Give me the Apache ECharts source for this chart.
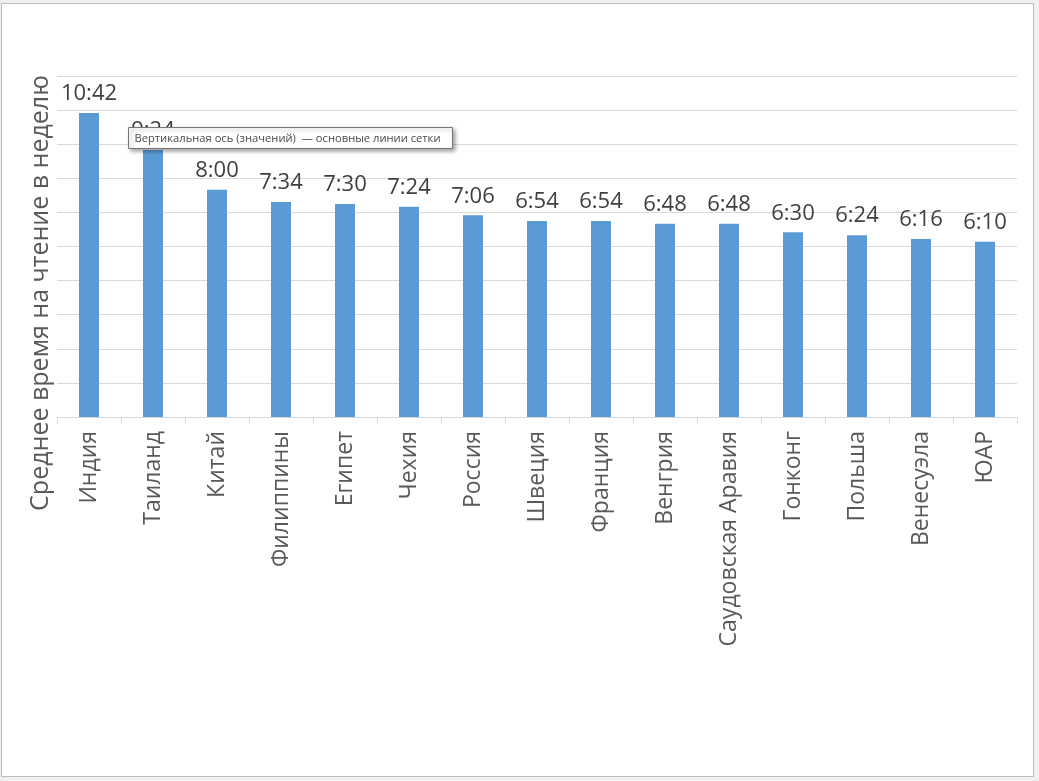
<!DOCTYPE html>
<html>
<head>
<meta charset="utf-8">
<script src="https://cdn.jsdelivr.net/npm/echarts@6/dist/echarts.min.js"></script>
<style>
html,body{margin:0;padding:0;background:#f0f0f0;}
#frame{position:absolute;left:1px;top:3px;width:1033px;height:774px;background:#fff;border:1px solid #bdbdbd;box-sizing:border-box;}
#chart{position:absolute;left:0;top:0;width:1039px;height:781px;}
</style>
</head>
<body>
<div id="frame"></div>
<div id="chart"></div>
<script>
var categories = ['Индия','Таиланд','Китай','Филиппины','Египет','Чехия','Россия','Швеция','Франция','Венгрия','Саудовская Аравия','Гонконг','Польша','Венесуэла','ЮАР'];
var timeLabels = ['10:42','9:24','8:00','7:34','7:30','7:24','7:06','6:54','6:54','6:48','6:48','6:30','6:24','6:16','6:10'];
var yTitle = 'Среднее время на чтение в неделю';
var hoverText = 'Вертикальная ось (значений)  — основные линии сетки';

function toMinutes(s){var p=s.split(':');return +p[0]*60 + +p[1];}
var values = timeLabels.map(toMinutes);

var font = '"Open Sans", "Noto Sans", sans-serif';
var chart = echarts.init(document.getElementById('chart'));
chart.setOption({
  animation:false,
  grid:{left:57,right:22,top:76,bottom:364},
  xAxis:{
    type:'category',
    data:categories,
    axisLine:{lineStyle:{color:'#d9d9d9'}},
    axisTick:{show:true,length:7,lineStyle:{color:'#d9d9d9'}},
    axisLabel:{rotate:90,fontSize:23,color:'#595959',fontFamily:font,margin:14,interval:0}
  },
  yAxis:{
    type:'value',min:0,max:720,interval:72,
    axisLabel:{show:false},
    axisLine:{show:false},axisTick:{show:false},
    splitLine:{lineStyle:{color:'#d9d9d9'}}
  },
  series:[{
    type:'bar',
    data:values,
    barWidth:20,
    itemStyle:{color:'#5b9bd5'},
    label:{show:true,position:'top',distance:8,fontSize:22,color:'#404040',fontFamily:font,
      formatter:function(p){return timeLabels[p.dataIndex];}}
  }],
  graphic:[
    {type:'text',x:41,y:293,rotation:Math.PI/2,
      style:{text:yTitle,fontSize:25,fill:'#595959',fontFamily:font,textAlign:'center',textVerticalAlign:'middle'}},
    {type:'group',left:128,top:127,z:1000,zlevel:1,children:[
      {type:'rect',z:1000,zlevel:1,shape:{x:0,y:0,width:324,height:21},
        style:{fill:'#ffffff',stroke:'#767676',lineWidth:1,shadowBlur:4,shadowOffsetX:2,shadowOffsetY:2,shadowColor:'rgba(0,0,0,0.35)'}},
      {type:'text',z:1001,zlevel:1,x:6,y:11,style:{text:hoverText,fontSize:11.2,fill:'#4a4a4a',fontFamily:font,textVerticalAlign:'middle'}}
    ]}
  ]
});
</script>
</body>
</html>
